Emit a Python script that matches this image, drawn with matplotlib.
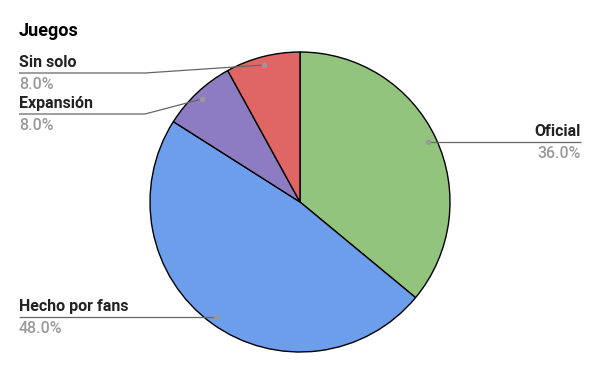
import matplotlib
matplotlib.use("Agg")
import matplotlib.pyplot as plt

labels = ["Oficial", "Hecho por fans", "Expansión", "Sin solo"]
values = [36.0, 48.0, 8.0, 8.0]
colors = ["#93c47d", "#6d9eeb", "#8e7cc3", "#e06666"]
title = "Juegos"

W, H = 600, 371
fig = plt.figure(figsize=(W / 100, H / 100), dpi=100)
ax = fig.add_axes([0, 0, 1, 1])
ax.set_xlim(0, W)
ax.set_ylim(0, H)
ax.set_aspect("equal")
ax.axis("off")

def Y(y):
    return H - y

cx, cy, r = 300, 202, 150
ax.pie(values, colors=colors, startangle=90, counterclock=False,
       center=(cx, Y(cy)), radius=r, frame=True,
       wedgeprops=dict(edgecolor="black", linewidth=1))
ax.set_xlim(0, W)
ax.set_ylim(0, H)
ax.axis("off")

ax.text(19, Y(31), title, fontsize=13, fontweight="bold", family="Roboto",
        color="#000000", va="center", ha="left")

lc = "#666666"
dc = "#999999"
pc = "#9a9a9a"
tc = "#222222"
fs = 11.5

# leader specs: (dot, elbow, end, text x, ha)
leaders = {
    "Sin solo": ((264, 65), (145, 73), (19, 73), 19, "left"),
    "Expansión": ((202, 99), (145, 114), (19, 114), 19, "left"),
    "Oficial": ((428, 142), (428, 142), (581, 142), 581, "right"),
    "Hecho por fans": ((216, 317), (216, 317), (19, 317), 19, "left"),
}
for lab, val in zip(labels, values):
    dot, elbow, end, tx, ha = leaders[lab]
    ax.plot([dot[0], elbow[0], end[0]], [Y(dot[1]), Y(elbow[1]), Y(end[1])],
            color=lc, linewidth=0.9, solid_capstyle="butt")
    ax.plot(dot[0], Y(dot[1]), "o", color=dc, markersize=3)
    ax.text(tx, Y(end[1] - 3), lab, fontsize=fs, fontweight="bold", family="Roboto",
            color=tc, ha=ha, va="bottom")
    ax.text(tx, Y(end[1] + 4), f"{val:.1f}%", fontsize=fs, fontweight="medium",
            family="Roboto", color=pc, ha=ha, va="top")

fig.savefig("out.png", dpi=100)
